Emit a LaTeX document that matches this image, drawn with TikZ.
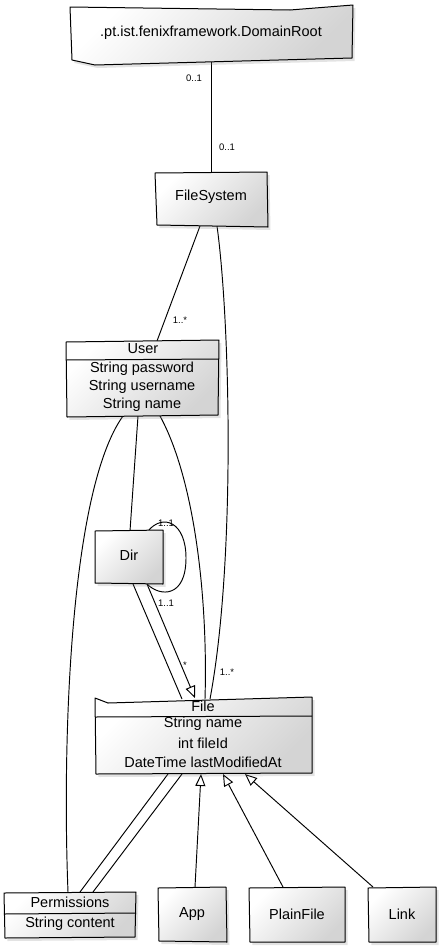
\documentclass[tikz,border=0pt]{standalone}
\usepackage{fontspec}
\setmainfont{Liberation Sans}
\usetikzlibrary{arrows.meta,shadows}
\begin{document}
\begin{tikzpicture}[x=1pt,y=-1pt,
  box/.style={draw=black, line width=1pt, line join=round,
    top color=white, bottom color=black!17, shading angle=45,
    drop shadow={opacity=0.22, shadow xshift=2.5pt, shadow yshift=-3pt}},
  sep/.style={draw=black, line width=1pt},
  conn/.style={draw=black, line width=0.95pt},
  inh/.style={conn, -{Triangle[open, length=12pt, width=10pt, line width=0.95pt]}},
  txt/.style={font=\fontsize{14.5}{16}\selectfont, inner sep=0pt, anchor=center},
  lbl/.style={font=\fontsize{9.5}{10}\selectfont, inner sep=0pt, anchor=center}]
\useasboundingbox (0,0) rectangle (441,948);

% connector end points
\coordinate (drS) at (211.5,62);
\coordinate (fsN) at (211.5,173);
\coordinate (fsS1) at (200,226);
\coordinate (fsS2) at (217,226);
\coordinate (userN) at (157,341);
\coordinate (userS1) at (123,416);
\coordinate (userS2) at (138,416);
\coordinate (userS3) at (160,416);
\coordinate (dirN) at (130,531);
\coordinate (dirNE) at (148,531);
\coordinate (dirSE) at (147,584);
\coordinate (dirS1) at (133,584);
\coordinate (dirS2) at (147,584);
\coordinate (fileN0) at (182,699);
\coordinate (fileN1) at (195,698);
\coordinate (fileN2) at (205,699);
\coordinate (fileN3) at (210,699);
\coordinate (fileS1) at (168,774);
\coordinate (fileS2) at (182,774);
\coordinate (fileS3) at (201,774);
\coordinate (fileS4) at (223,774);
\coordinate (fileS5) at (245,774);
\coordinate (permN1) at (68,892);
\coordinate (permN2) at (80,892);
\coordinate (permN3) at (93,892);
\coordinate (appN) at (195,887);
\coordinate (pfN) at (283,887);
\coordinate (linkN) at (373,887);

% connectors
\draw[conn] (drS) -- (fsN);
\draw[conn] (fsS1) -- (userN);
\draw[conn] (fsS2) .. controls (230,320) and (236,560) .. (fileN3);
\draw[conn] (userS1) .. controls (70,490) and (62,740) .. (permN1);
\draw[conn] (userS2) -- (dirN);
\draw[conn] (userS3) .. controls (195,480) and (208,600) .. (fileN2);
\draw[conn] (dirS1) -- (fileN0);
\draw[inh] (dirS2) -- (fileN1);
\draw[conn] (dirNE) .. controls (163,513) and (186,522) .. (186,558) .. controls (186,598) and (160,597) .. (dirSE);
\draw[conn] (fileS1) -- (permN2);
\draw[conn] (fileS2) -- (permN3);
\draw[inh] (appN) -- (fileS3);
\draw[inh] (pfN) -- (fileS4);
\draw[inh] (linkN) -- (fileS5);

% boxes
\path[box] (70,7) -- (290,10) -- (353,5) -- (352,58) -- (95,65) -- (72,60) -- cycle;
\path[box] (155,173) -- (267,172) -- (268,227) -- (157,225) -- cycle;
\path[box] (66,342) -- (219,340) -- (218,415) -- (67,417) -- cycle;
\draw[sep] (66,360) -- (219,359);
\path[box] (95,531) -- (163,530) -- (163,584) -- (95,583) -- cycle;
\path[box] (95,698) -- (108,703) -- (312,697) -- (312,773) -- (96,774) -- cycle;
\draw[sep] (95,717) -- (312,716);
\path[box] (4,893) -- (136,892) -- (135,937) -- (5,938) -- cycle;
\draw[sep] (4,914) -- (136,913);
\path[box] (158,888) -- (226,887) -- (227,942) -- (159,941) -- cycle;
\path[box] (249,888) -- (345,887) -- (345,942) -- (250,942) -- cycle;
\path[box] (368,888) -- (436,887) -- (436,942) -- (369,942) -- cycle;

% texts
\node[txt] (drT) at (211,33) {.pt.ist.fenixframework.DomainRoot};
\node[txt] (fsT) at (211,197) {FileSystem};
\node[txt] (userT) at (143,349) {User};
\node[txt] (userA1) at (142,369) {String password};
\node[txt] (userA2) at (142,387) {String username};
\node[txt] (userA3) at (142,405) {String name};
\node[txt] (dirT) at (129,555) {Dir};
\node[txt] (fileT) at (203,706) {File};
\node[txt] (fileA1) at (203,724) {String name};
\node[txt] (fileA2) at (203,743) {int fileId};
\node[txt] (fileA3) at (203,762) {DateTime lastModifiedAt};
\node[txt] (permT) at (70,902) {Permissions};
\node[txt] (permA1) at (70,924) {String content};
\node[txt] (appT) at (192,914) {App};
\node[txt] (pfT) at (297,914) {PlainFile};
\node[txt] (linkT) at (402,914) {Link};

% multiplicities
\node[lbl] (m1) at (194,78) {0..1};
\node[lbl] (m2) at (227,147) {0..1};
\node[lbl] (m3) at (180,320) {1..*};
\node[lbl] (m4) at (166,523) {1..1};
\node[lbl] (m5) at (166,603) {1..1};
\node[lbl] (m6) at (185,665) {*};
\node[lbl] (m7) at (227,672) {1..*};
\end{tikzpicture}
\end{document}
